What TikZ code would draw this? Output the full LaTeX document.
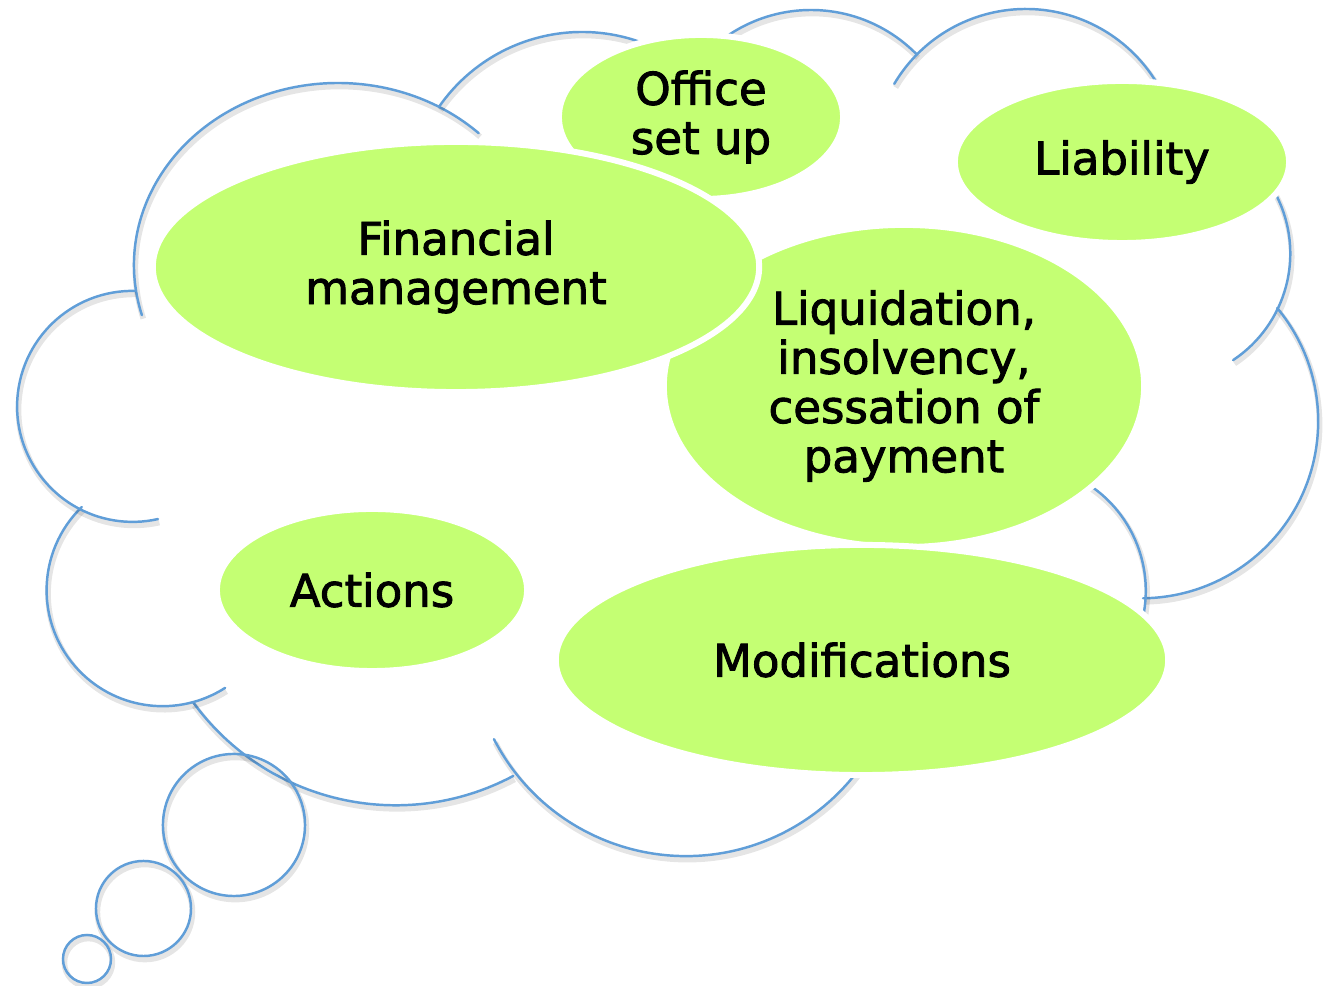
\documentclass[tikz,border=0pt]{standalone}
\usepackage{fontspec}
\setmainfont{DejaVu Sans}[FakeBold=2]
\usetikzlibrary{shapes.geometric}
\definecolor{cloudblue}{RGB}{96,158,216}
\definecolor{leaf}{RGB}{196,255,115}
\begin{document}
\begin{tikzpicture}[x=0.01cm,y=-0.01cm,
  cloudline/.style={draw=cloudblue, line width=0.7pt, line cap=round,
    preaction={draw=black, draw opacity=0.1, line width=1.6pt, transform canvas={xshift=0.4pt,yshift=-1pt}}},
  bubble/.style={circle, cloudline, inner sep=0pt, fill=none},
  idea/.style={ellipse, fill=leaf, draw=white, line width=1.7pt, inner sep=0pt, align=center,
    font=\fontsize{12.8}{14}\selectfont}]
\useasboundingbox[fill=white] (0,0) rectangle (1326,986);

% cloud outline: arcs (centre, start angle, end angle, radius)
\coordinate (cA) at (338,265);
\coordinate (cB) at (582,206);
\coordinate (cC) at (811,158);
\coordinate (cD) at (1025.8,162);
\coordinate (cE) at (1162.3,253.5);
\coordinate (cF) at (1141.2,421.3);
\coordinate (cG) at (1018.8,590.7);
\coordinate (cH) at (685.9,640.1);
\coordinate (cI) at (395.6,554.8);
\coordinate (cJ) at (162.6,590.2);
\coordinate (cK) at (132.6,406.4);

\draw[cloudline] ([shift={(164:204 and 182)}]cA) arc[start angle=164, end angle=313.6, x radius=204, y radius=182];
\draw[cloudline] ([shift={(214.8:174)}]cB) arc[start angle=214.8, end angle=293, radius=174];
\draw[cloudline] ([shift={(223:148)}]cC) arc[start angle=223, end angle=315.5, radius=148];
\draw[cloudline] ([shift={(210.7:153)}]cD) arc[start angle=210.7, end angle=345, radius=153];
\draw[cloudline] ([shift={(-45:128)}]cE) arc[start angle=-45, end angle=56.4, radius=128];
\draw[cloudline] ([shift={(-39.8:177)}]cF) arc[start angle=-39.8, end angle=89.4, radius=177];
\draw[cloudline] ([shift={(-67.5:127)}]cG) arc[start angle=-67.5, end angle=15, radius=127];
\draw[cloudline] ([shift={(152.7:216)}]cH) arc[start angle=152.7, end angle=32, radius=216];
\draw[cloudline] ([shift={(62:250.5)}]cI) arc[start angle=62, end angle=144, radius=250.5];
\draw[cloudline] ([shift={(225.9:116)}]cJ) arc[start angle=225.9, end angle=57.4, radius=116];
\draw[cloudline] ([shift={(271.2:115.5)}]cK) arc[start angle=271.2, end angle=77.3, radius=115.5];

% thought bubbles
\node[bubble, minimum size=1.42cm] (b1) at (234,825) {};
\node[bubble, minimum size=0.95cm] (b2) at (143.5,908.5) {};
\node[bubble, minimum size=0.48cm] (b3) at (87,959) {};

% ideas
\node[idea, minimum width=2.84cm, minimum height=1.64cm] (office) at (701,117) {Office\\set up};
\node[idea, minimum width=3.34cm, minimum height=1.62cm] (liab) at (1122,162) {Liability};
\node[idea, minimum width=4.80cm, minimum height=3.22cm] (liq) at (904,386) {Liquidation,\\insolvency,\\cessation of\\payment};
\node[idea, minimum width=6.06cm, minimum height=2.50cm] (fin) at (456,267) {Financial\\management};
\node[idea, minimum width=3.10cm, minimum height=1.62cm] (act) at (372,590) {Actions};
\node[idea, minimum width=6.12cm, minimum height=2.30cm] (mod) at (862,660) {Modifications};
\end{tikzpicture}
\end{document}
